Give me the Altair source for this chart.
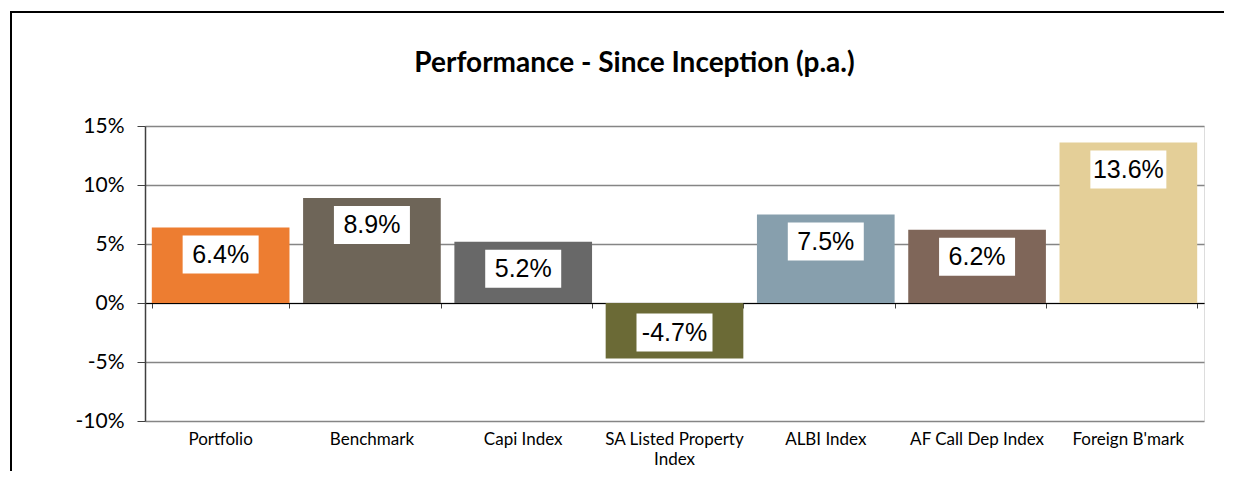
import altair as alt
import pandas as pd

categories = ["Portfolio", "Benchmark", "Capi Index", "SA Listed Property Index",
              "ALBI Index", "AF Call Dep Index", "Foreign B'mark"]
values = [6.4, 8.9, 5.2, -4.7, 7.5, 6.2, 13.6]
colors = ["#ED7D31", "#6E6558", "#686868", "#6B6A36", "#879FAD", "#7F6659", "#E4CF98"]
y_ticks = [-10, -5, 0, 5, 10, 15]

df = pd.DataFrame({"cat": categories, "val": values})

W, H = 1059, 295
FONT = "Lato"

xscale = alt.Scale(domain=categories, paddingInner=0.09, paddingOuter=0.045)
yscale = alt.Scale(domain=[-10, 15], nice=False, zero=False)

base = alt.Chart(df)

bars = base.mark_bar().encode(
    x=alt.X("cat:N", scale=xscale, sort=categories, title=None,
            axis=alt.Axis(domain=False, ticks=False, labelAngle=0,
                          labelFont=FONT, labelFontSize=17, labelColor="#000000",
                          labelPadding=10, labelLineHeight=20, labelLimit=200,
                          labelExpr="datum.value == 'SA Listed Property Index' ? ['SA Listed Property', 'Index'] : datum.value")),
    y=alt.Y("val:Q", scale=yscale, title=None,
            axis=alt.Axis(values=y_ticks, grid=True, gridColor="#858585", gridWidth=1.5,
                          domain=True, domainColor="#404040", domainWidth=1.5,
                          ticks=True, tickColor="#404040", tickSize=8,
                          labelFont=FONT, labelFontSize=21, labelColor="#000000",
                          labelPadding=13, labelExpr="datum.value + '%'")),
    color=alt.Color("cat:N", scale=alt.Scale(domain=categories, range=colors), legend=None),
)

zero_axis = base.mark_bar(opacity=0).encode(
    x=alt.X("cat:N", scale=xscale, sort=categories, title=None,
            axis=alt.Axis(orient="bottom", offset=-118, labels=False, domain=True,
                          domainColor="#000000", domainWidth=1.2, ticks=True,
                          tickBand="extent", tickSize=5, tickColor="#404040", grid=False)),
    y=alt.Y("val:Q", scale=yscale, title=None),
)

label_calc = base.transform_calculate(
    top="datum.val > 0 ? datum.val - 0.68 : datum.val + 3.81",
    bot="datum.val > 0 ? datum.val - 3.9 : datum.val + 0.59",
    mid="datum.val > 0 ? datum.val - 2.29 : datum.val + 2.2",
    txt="datum.val + '%'",
)

boxes = label_calc.mark_bar(width=76, color="#FFFFFF").encode(
    x=alt.X("cat:N", scale=xscale, sort=categories, axis=None),
    y=alt.Y("top:Q", scale=yscale, title=None),
    y2="bot:Q",
)

texts = label_calc.mark_text(font="Liberation Sans", fontSize=25, color="#000000",
                             baseline="middle", align="center").encode(
    x=alt.X("cat:N", scale=xscale, sort=categories, axis=None),
    y=alt.Y("mid:Q", scale=yscale, title=None),
    text="txt:N",
)

frame_left = alt.Chart(df).mark_rule(color="#000000", strokeWidth=2).encode(
    x=alt.value(-134), y=alt.value(-114), y2=alt.value(345))
frame_top = alt.Chart(df).mark_rule(color="#000000", strokeWidth=2).encode(
    x=alt.value(-135), x2=alt.value(1092), y=alt.value(-114))

chart = alt.layer(bars, zero_axis, boxes, texts, frame_left, frame_top).resolve_axis(
    x="independent"
).properties(
    width=W, height=H,
    title=alt.TitleParams("Performance - Since Inception (p.a.)", font=FONT, fontSize=28,
                          fontWeight="bold", color="#000000", anchor="middle",
                          dx=-40, offset=-67),
    autosize=alt.AutoSizeParams(type="none"),
    padding={"left": 137, "top": 118, "right": 20, "bottom": 50},
).configure_view(
    stroke="#858585", strokeWidth=2, fill="#F1F1F1"
).configure(background="#FFFFFF")

chart.save("out.html", embed_options={"renderer": "svg", "actions": False})
